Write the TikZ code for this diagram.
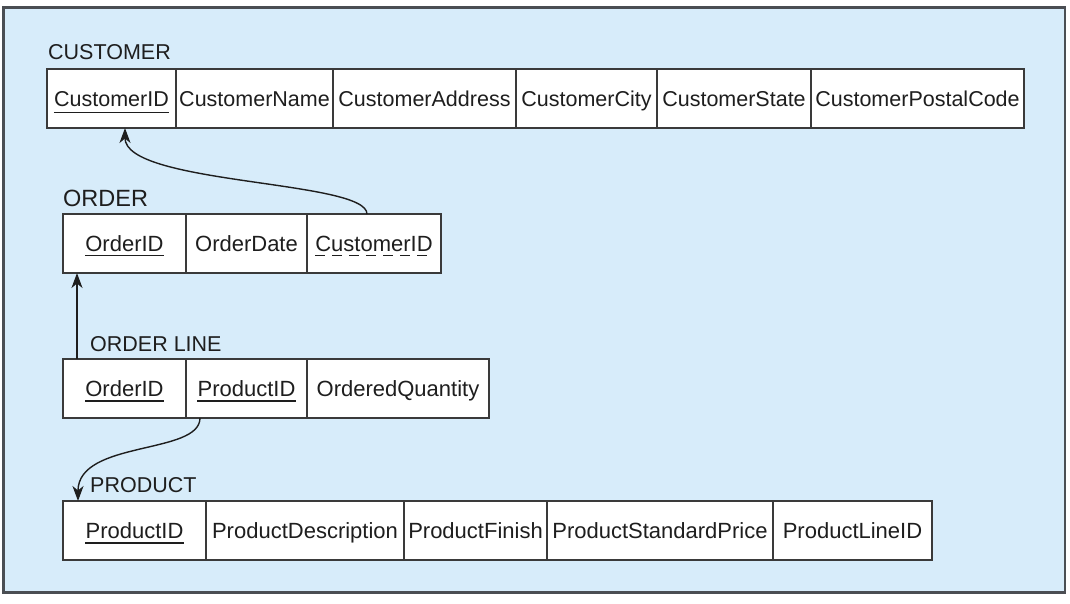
\documentclass[tikz,border=0pt]{standalone}
\usepackage{fontspec}
\setmainfont{Liberation Sans}
\usetikzlibrary{arrows.meta}
\definecolor{bgblue}{HTML}{D7ECFA}
\definecolor{framegray}{HTML}{4A4E53}
\definecolor{cellgray}{HTML}{3A3A3A}
\definecolor{inkc}{HTML}{1E1E1E}
\begin{document}
\begin{tikzpicture}[x=1pt,y=-1pt,
  cellbox/.style={draw=cellgray, fill=white, line width=1.1pt, minimum height=59pt, inner sep=0pt, outer sep=0pt, anchor=north west},
  ctxt/.style={font=\fontsize{22}{26}\selectfont, text=inkc, inner sep=0pt, anchor=base},
  ctxts/.style={font=\fontsize{21.5}{26}\selectfont, text=inkc, inner sep=0pt, anchor=base},
  tlabel/.style={font=\fontsize{21.5}{26}\selectfont, text=inkc, inner sep=0pt, anchor=base west},
  uline/.style={draw=inkc, line width=1.3pt},
  duline/.style={draw=inkc, line width=1.3pt, dash pattern=on 10pt off 7pt},
  arr/.style={draw=inkc, line width=1.4pt, -{Stealth[length=15pt,width=11pt,inset=4.5pt]}}
]
\useasboundingbox (0,0) rectangle (1070,604);
\draw[framegray, fill=bgblue, line width=2.4pt] (3.5,7.5) rectangle (1065,592.5);

% CUSTOMER
\node[tlabel] (lcust) at (48,60) {CUSTOMER};
\node[cellbox, minimum width=129pt] (c1) at (47,69) {};
\node[cellbox, minimum width=157pt] (c2) at (176,69) {};
\node[cellbox, minimum width=183pt] (c3) at (333,69) {};
\node[cellbox, minimum width=141pt] (c4) at (516,69) {};
\node[cellbox, minimum width=154pt] (c5) at (657,69) {};
\node[cellbox, minimum width=213pt] (c6) at (811,69) {};
\node[ctxts] (c1t) at ([yshift=-7.7pt]c1.center) {CustomerID};
\node[ctxts] (c2t) at ([yshift=-7.7pt]c2.center) {CustomerName};
\node[ctxts] (c3t) at ([yshift=-7.7pt]c3.center) {CustomerAddress};
\node[ctxts] (c4t) at ([yshift=-7.7pt]c4.center) {CustomerCity};
\node[ctxts] (c5t) at ([yshift=-7.7pt]c5.center) {CustomerState};
\node[ctxts] (c6t) at ([yshift=-7.7pt]c6.center) {CustomerPostalCode};
\draw[uline] ([yshift=-6pt]c1t.base west) -- ([yshift=-6pt]c1t.base east);

% ORDER
\node[tlabel, font=\fontsize{23.5}{28}\selectfont] (lord) at (63,206) {ORDER};
\node[cellbox, minimum width=123pt] (o1) at (63,214) {};
\node[cellbox, minimum width=121pt] (o2) at (186,214) {};
\node[cellbox, minimum width=134pt] (o3) at (307,214) {};
\node[ctxt] (o1t) at ([yshift=-7.9pt]o1.center) {OrderID};
\node[ctxt] (o2t) at ([yshift=-7.9pt]o2.center) {OrderDate};
\node[ctxt] (o3t) at ([yshift=-7.9pt]o3.center) {CustomerID};
\draw[uline] ([yshift=-4pt]o1t.base west) -- ([yshift=-4pt]o1t.base east);
\draw[duline] ([yshift=-4pt]o3t.base west) -- ([yshift=-4pt]o3t.base east);

% ORDER LINE
\node[tlabel] (lol) at (90,351) {ORDER LINE};
\node[cellbox, minimum width=123pt] (l1) at (63,359) {};
\node[cellbox, minimum width=121pt] (l2) at (186,359) {};
\node[cellbox, minimum width=182pt] (l3) at (307,359) {};
\node[ctxt] (l1t) at ([yshift=-7.9pt]l1.center) {OrderID};
\node[ctxt] (l2t) at ([yshift=-7.9pt]l2.center) {ProductID};
\node[ctxt] (l3t) at ([yshift=-7.9pt]l3.center) {OrderedQuantity};
\draw[uline] ([yshift=-4.5pt]l1t.base west) -- ([yshift=-4.5pt]l1t.base east);
\draw[uline] ([yshift=-4.5pt]l2t.base west) -- ([yshift=-4.5pt]l2t.base east);

% PRODUCT
\node[tlabel] (lprod) at (90,492) {PRODUCT};
\node[cellbox, minimum width=143pt] (p1) at (63,501) {};
\node[cellbox, minimum width=198pt] (p2) at (206,501) {};
\node[cellbox, minimum width=143pt] (p3) at (404,501) {};
\node[cellbox, minimum width=226pt] (p4) at (547,501) {};
\node[cellbox, minimum width=159pt] (p5) at (773,501) {};
\node[ctxt] (p1t) at ([yshift=-7.9pt]p1.center) {ProductID};
\node[ctxt] (p2t) at ([yshift=-7.9pt]p2.center) {ProductDescription};
\node[ctxt] (p3t) at ([yshift=-7.9pt]p3.center) {ProductFinish};
\node[ctxt] (p4t) at ([yshift=-7.9pt]p4.center) {ProductStandardPrice};
\node[ctxt] (p5t) at ([yshift=-7.9pt]p5.center) {ProductLineID};
\draw[uline] ([yshift=-4.5pt]p1t.base west) -- ([yshift=-4.5pt]p1t.base east);

% connectors
\draw[arr] ([xshift=60pt]o3.north west) .. controls +(0,-34) and +(0,57) .. ([xshift=78pt]c1.south west);
\draw[arr] ([xshift=14pt]l1.north west) -- ([xshift=14pt]o1.south west);
\draw[arr] ([xshift=14pt]l2.south west) .. controls +(0,37) and +(0,-61) .. ([xshift=15pt]p1.north west);
\end{tikzpicture}
\end{document}
